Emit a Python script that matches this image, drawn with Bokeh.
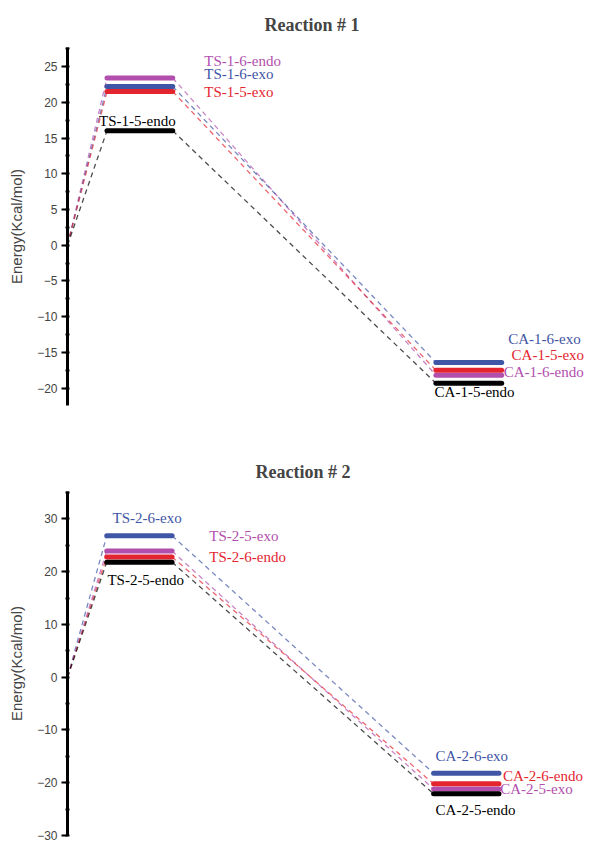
from bokeh.plotting import figure
from bokeh.layouts import column
from bokeh.models import Range1d, SingleIntervalTicker, ColumnDataSource
from bokeh.core.properties import value
from bokeh.embed import file_html
from bokeh.resources import INLINE

# ---------------- data ----------------
# stage positions on the reaction coordinate (reactant, TS bar, CA bar)
stage_reactant = 0.0
stage_ts = [0.6, 1.6]
stage_ca = [5.6, 6.6]

# Reaction 1
r1_names = ["1-6-endo", "1-6-exo", "1-5-exo", "1-5-endo"]
r1_ts = [23.4, 22.2, 21.5, 16.0]
r1_ca = [-18.2, -16.4, -17.5, -19.3]
r1_colors = ["#b24fae", "#3f55a5", "#e42530", "#000000"]

# Reaction 2
r2_names = ["2-6-exo", "2-5-exo", "2-6-endo", "2-5-endo"]
r2_ts = [26.8, 23.9, 22.8, 21.8]
r2_ca = [-18.2, -21.2, -20.2, -22.1]
r2_colors = ["#3f55a5", "#b24fae", "#e42530", "#000000"]

# label placement (layout only)
r1_ts_lab = [(2.08, 25.8), (2.08, 24.0), (2.08, 21.4), (0.48, 17.4)]
r1_ca_lab = [(6.63, -17.8), (6.70, -13.1), (6.75, -15.4), (5.58, -20.6)]
r2_ts_lab = [(0.69, 30.1), (2.17, 26.7), (2.17, 22.8), (0.61, 18.5)]
r2_ca_lab = [(5.63, -15.0), (6.62, -21.2), (6.66, -18.8), (5.63, -25.2)]


def make_panel(title, names, ts, ca, colors, ts_lab, ca_lab, yr, xr, interval,
               width, height, left, top, bottom, title_offset, standoff):
    p = figure(width=width, height=height, output_backend="svg",
               toolbar_location=None, x_range=Range1d(*xr), y_range=Range1d(*yr),
               x_axis_location=None, min_border_left=left, min_border_top=top,
               min_border_bottom=bottom, min_border_right=0)
    p.outline_line_color = None
    p.xgrid.visible = False
    p.ygrid.visible = False
    p.title.text = title
    p.title.text_font = "Liberation Serif"
    p.title.text_font_style = "bold"
    p.title.text_font_size = "18px"
    p.title.align = "left"
    p.title.offset = title_offset
    p.title.standoff = standoff

    ax = p.yaxis[0]
    ax.ticker = SingleIntervalTicker(interval=interval, num_minor_ticks=2)
    ax.axis_label = "Energy(Kcal/mol)"
    ax.axis_label_text_font = "Liberation Sans"
    ax.axis_label_text_font_style = "normal"
    ax.axis_label_text_font_size = "15px"
    ax.axis_label_standoff = 9
    ax.major_label_text_font = "Liberation Sans"
    ax.major_label_text_font_size = "12px"
    ax.major_label_standoff = 4
    ax.axis_line_width = 3
    ax.major_tick_line_width = 2
    ax.minor_tick_line_width = 2
    ax.major_tick_out = 6
    ax.major_tick_in = 0
    ax.minor_tick_out = 2
    ax.minor_tick_in = 2

    # dashed connectors
    for t, c, col in zip(ts, ca, colors):
        p.line([stage_reactant, stage_ts[0]], [0, t], line_color=col,
               line_dash="5 4", line_width=1.3, line_alpha=0.7)
        p.line([stage_ts[1], stage_ca[0]], [t, c], line_color=col,
               line_dash="5 4", line_width=1.3, line_alpha=0.7)

    # energy levels
    n = len(ts)
    lv = ColumnDataSource(dict(
        x0=[stage_ts[0]] * n + [stage_ca[0]] * n,
        x1=[stage_ts[1]] * n + [stage_ca[1]] * n,
        y=list(ts) + list(ca),
        color=list(colors) * 2,
    ))
    p.segment(x0="x0", y0="y", x1="x1", y1="y", line_color="color",
              line_width=5, line_cap="round", source=lv)

    # labels
    lab = ColumnDataSource(dict(
        x=[a for a, b in ts_lab] + [a for a, b in ca_lab],
        y=[b for a, b in ts_lab] + [b for a, b in ca_lab],
        text=["TS-" + s for s in names] + ["CA-" + s for s in names],
        color=list(colors) * 2,
    ))
    p.text(x="x", y="y", text="text", text_color="color", source=lab,
           text_font=value("Liberation Serif"), text_font_size="15px",
           text_align="left", text_baseline="middle")
    return p


p1 = make_panel("Reaction # 1", r1_names, r1_ts, r1_ca, r1_colors, r1_ts_lab,
                r1_ca_lab, (-22.42, 27.66), (0.0, 7.95), 5,
                590, 447, 60, 47, 42, 197, 25)
p2 = make_panel("Reaction # 2", r2_names, r2_ts, r2_ca, r2_colors, r2_ts_lab,
                r2_ca_lab, (-30.0, 35.2), (0.0, 8.0), 10,
                590, 395, 67, 44, 7, 188, 19)

layout = column(p1, p2, spacing=0)
open("out.html", "w").write(file_html(layout, INLINE))
